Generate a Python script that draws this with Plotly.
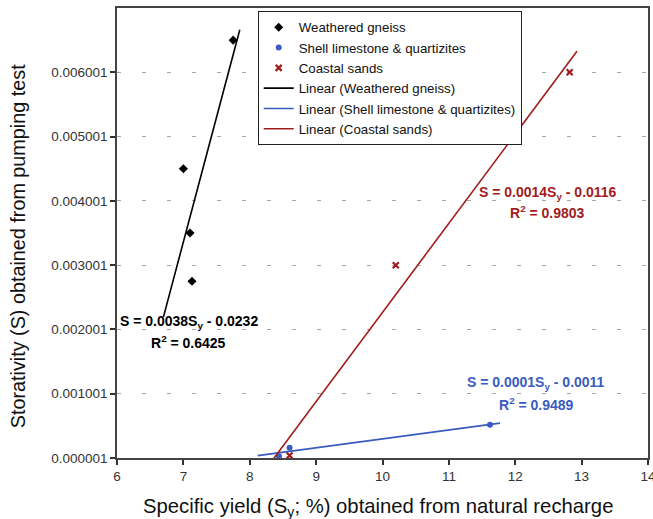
import numpy as np
import plotly.graph_objects as go

# ---- data ----
gneiss_x = [7.75, 7.0, 7.1, 7.13]
gneiss_y = [0.0065, 0.0045, 0.0035, 0.00275]

shell_x = [8.44, 8.6, 11.62]
shell_y = [0.00003, 0.00016, 0.00052]

coastal_x = [8.6, 10.2, 12.82]
coastal_y = [0.00004, 0.003, 0.006]

# trendline extents (x) as drawn in the reference
gneiss_fit_x = [6.7, 7.85]
shell_fit_x = [8.12, 11.77]
coastal_fit_x = [8.36, 12.93]

x_ticks = [6, 7, 8, 9, 10, 11, 12, 13, 14]
y_ticks = [0.000001, 0.001001, 0.002001, 0.003001, 0.004001, 0.005001, 0.006001]
y_tick_labels = ["0.000001", "0.001001", "0.002001", "0.003001", "0.004001", "0.005001", "0.006001"]

x_title = "Specific yield (S<sub>y</sub>; %) obtained from natural recharge"
y_title = "Storativity (S) obtained from pumping test"

eq_gneiss = ["S = 0.0038S<sub>y</sub> - 0.0232", "R<sup>2</sup> = 0.6425"]
eq_coastal = ["S = 0.0014S<sub>y</sub> - 0.0116", "R<sup>2</sup> = 0.9803"]
eq_shell = ["S = 0.0001S<sub>y</sub> - 0.0011", "R<sup>2</sup> = 0.9489"]

BLACK = "#000000"
BLUE = "#3a5bbf"
RED = "#a11c1c"
FONT = "Liberation Sans, Arial, sans-serif"


def fit_line(xs, ys, xr):
    m, b = np.polyfit(xs, ys, 1)
    xr = np.array(xr, dtype=float)
    return xr.tolist(), (m * xr + b).tolist()


fig = go.Figure()

fig.add_trace(go.Scatter(x=gneiss_x, y=gneiss_y, mode="markers", name="Weathered gneiss",
                         marker=dict(symbol="diamond", size=7, color=BLACK)))
fig.add_trace(go.Scatter(x=shell_x, y=shell_y, mode="markers", name="Shell limestone & quartizites",
                         marker=dict(symbol="circle", size=6, color=BLUE)))
fig.add_trace(go.Scatter(x=coastal_x, y=coastal_y, mode="markers", name="Coastal sands",
                         marker=dict(symbol="x-thin", size=6, color=RED,
                                     line=dict(width=2.2, color=RED))))

gx, gy = fit_line(gneiss_x, gneiss_y, gneiss_fit_x)
sx, sy = fit_line(shell_x, shell_y, shell_fit_x)
cx, cy = fit_line(coastal_x, coastal_y, coastal_fit_x)

fig.add_trace(go.Scatter(x=gx, y=gy, mode="lines", name="Linear (Weathered gneiss)",
                         line=dict(color=BLACK, width=1.6)))
fig.add_trace(go.Scatter(x=sx, y=sy, mode="lines", name="Linear (Shell limestone & quartizites)",
                         line=dict(color=BLUE, width=1.6)))
fig.add_trace(go.Scatter(x=cx, y=cy, mode="lines", name="Linear (Coastal sands)",
                         line=dict(color=RED, width=1.6)))

annots = []
for texts, color, pos in [
    (eq_gneiss, BLACK, [(7.08, 0.00212), (7.07, 0.00181)]),
    (eq_coastal, RED, [(12.49, 0.00412), (12.48, 0.00383)]),
    (eq_shell, BLUE, [(12.31, 0.00117), (12.32, 0.00084)]),
]:
    for t, (ax_, ay_) in zip(texts, pos):
        annots.append(dict(x=ax_, y=ay_, xref="x", yref="y", text="<b>" + t + "</b>",
                           showarrow=False, font=dict(size=14, color=color, family=FONT),
                           xanchor="center", yanchor="middle"))

# axis titles
annots.append(dict(x=0.4906, y=-0.109, xref="paper", yref="paper", text=x_title,
                   showarrow=False, xanchor="center", yanchor="middle",
                   font=dict(size=20.3, color="#111", family=FONT)))
annots.append(dict(x=-0.186, y=0.471, xref="paper", yref="paper", text=y_title,
                   showarrow=False, xanchor="center", yanchor="middle", textangle=-90,
                   font=dict(size=19.8, color="#111", family=FONT)))

fig.update_layout(
    width=653, height=519,
    margin=dict(l=117, r=5, t=8, b=61),
    paper_bgcolor="white", plot_bgcolor="white",
    font=dict(family=FONT, color="#222"),
    showlegend=True,
    legend=dict(x=0.265, y=0.993, xanchor="left", yanchor="top",
                bgcolor="white", bordercolor="#222", borderwidth=1,
                font=dict(size=13.3, color="#111", family=FONT),
                tracegroupgap=0, itemwidth=30),
    annotations=annots,
    xaxis=dict(range=[6, 14], tickvals=x_ticks, ticks="outside", ticklen=5, tickwidth=1.5,
               tickcolor="#333", showline=True, linecolor="#444", linewidth=1.5, mirror=True,
               showgrid=False, zeroline=False, automargin=False, ticklabeloverflow="allow",
               tickfont=dict(size=13.5, color="#333", family=FONT)),
    yaxis=dict(range=[0.000001, 0.007], tickvals=y_ticks, ticktext=y_tick_labels,
               ticks="outside", ticklen=5, tickwidth=1.5, tickcolor="#333",
               showline=True, linecolor="#444", linewidth=1.5, mirror=True,
               showgrid=True, gridcolor="#a8a8a8", griddash="4px,21px", gridwidth=1,
               zeroline=False, automargin=False,
               tickfont=dict(size=13.5, color="#333", family=FONT)),
)

fig.write_html("out.html", config={"displayModeBar": False},
               post_script="document.body.style.margin='0px';document.body.style.overflow='hidden';")
